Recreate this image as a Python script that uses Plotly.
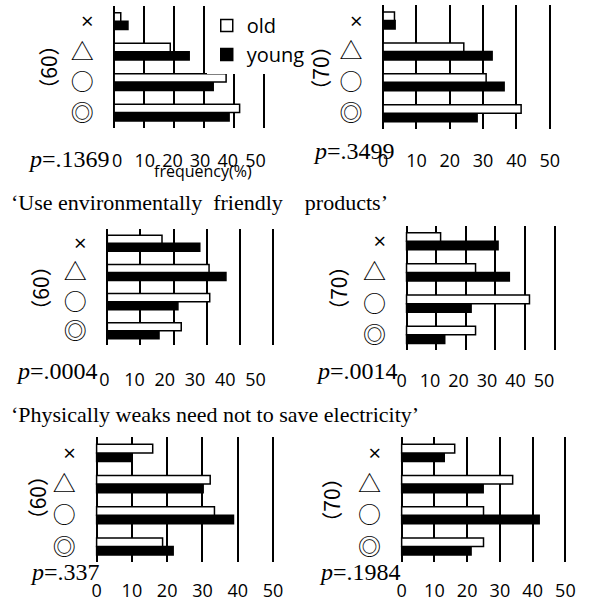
import plotly.graph_objects as go

# ---------------- data ----------------
categories = ["◎", "○", "△", "×"]          # bottom -> top
category_text = ["◎", "○", "△", '<span style="font-family:Open Sans;font-size:22px">×</span>']
series_names = ["old", "young"]
age_groups = ["（60）", "（70）", "（60）", "（70）", "（60）", "（70）"]
p_values = [".1369", ".3499", ".0004", ".0014", ".337", ".1984"]
tick_values = [0, 10, 20, 30, 40, 50]
tick_labels = ["0", "10", "20", "30", "40", "50"]
titles = ["‘Use environmentally\u00a0\u00a0friendly\u00a0\u00a0\u00a0\u00a0products’",
          "‘Physically weaks need not to save electricity’"]
x_title = "frequency(%)"

old_1 = [41.8, 37.3, 18.7, 2.2]
young_1 = [38.3, 33.0, 25.0, 4.6]
old_2 = [41.4, 30.9, 24.2, 3.4]
young_2 = [28.2, 36.3, 32.7, 3.6]
old_3 = [22.3, 30.9, 30.7, 16.5]
young_3 = [15.6, 21.3, 35.8, 27.9]
old_4 = [23.3, 41.5, 23.3, 11.5]
young_4 = [12.9, 21.8, 34.7, 30.9]
old_5 = [18.7, 33.4, 32.2, 15.9]
young_5 = [21.7, 38.8, 30.2, 10.1]
old_6 = [25.0, 25.0, 33.9, 16.2]
young_6 = [21.2, 42.0, 24.9, 13.0]

old_series = [old_1, old_2, old_3, old_4, old_5, old_6]
young_series = [young_1, young_2, young_3, young_4, young_5, young_6]

# ---------------- layout geometry (pixels) ----------------
W, H = 590, 608
# x at value 0, x at value 50, plot top, plot bottom
panel_geom = [
    (112, 266, 5, 127),
    (388, 559, 4, 128),
    (105, 275, 228, 345),
    (412, 564, 225, 350),
    (94, 275, 437, 562),
    (407, 575, 437, 562),
]
# tick-label row: x of "0", x of "50", centre y
label_geom = [
    (115, 257, 159),
    (388, 559, 159),
    (102, 257, 379),
    (407, 553, 380),
    (94, 275, 590),
    (407, 575, 590),
]
# p-value text: right edge x, centre y
p_geom = [(110, 158), (402, 150), (97, 371), (405, 371), (100, 572), (408, 572)]
# age label: centre x, centre y
age_geom = [(44, 66), (323, 67), (35, 288), (341, 288), (33, 498), (335, 500)]
title_geom = [(4, 202), (4, 414)]

SANS = "Open Sans"
SERIF = "Liberation Serif"
CJK = "Noto Sans CJK JP"


def fx(p):
    return p / W


def fy(p):
    return 1 - p / H


fig = go.Figure()
layout = {}
annotations = []

for i in range(6):
    n = i + 1
    xs = "" if n == 1 else str(n)
    x0, x50, top, bottom = panel_geom[i]
    ppu = (x50 - x0) / 50.0
    d0 = x0 - 0.5 * ppu
    d1 = x50 + 0.5 * ppu

    fig.add_trace(go.Bar(
        y=categories, x=young_series[i], orientation="h", name=series_names[1],
        marker=dict(color="black", line=dict(color="black", width=1.5)),
        xaxis="x" + xs, yaxis="y" + xs, showlegend=(n == 1), legendrank=2,
        legendgroup="young",
    ))
    fig.add_trace(go.Bar(
        y=categories, x=old_series[i], orientation="h", name=series_names[0],
        marker=dict(color="white", line=dict(color="black", width=1.5)),
        xaxis="x" + xs, yaxis="y" + xs, showlegend=(n == 1), legendrank=1,
        legendgroup="old",
    ))
    # empty trace that ties the tick-label axis into this panel
    lx = "x" + str(n + 6)
    fig.add_trace(go.Scatter(
        x=[], y=[], mode="markers", xaxis=lx, yaxis="y" + xs,
        showlegend=False, hoverinfo="skip",
    ))

    layout["xaxis" + xs] = dict(
        domain=[fx(d0), fx(d1)], range=[-0.5, 50.5], autorange=False,
        anchor="y" + xs, tickvals=tick_values[1:], showticklabels=False, ticks="",
        showgrid=True, gridcolor="black", gridwidth=2,
        zeroline=True, zerolinecolor="black", zerolinewidth=2,
        showline=False, fixedrange=True,
    )
    layout["yaxis" + xs] = dict(
        domain=[fy(bottom), fy(top)], anchor="x" + xs, type="category",
        categoryorder="array", categoryarray=categories,
        tickvals=categories, ticktext=category_text,
        range=[-0.5, 3.5], autorange=False,
        tickfont=dict(family=CJK, size=23, color="black"), ticks="",
        ticklabelstandoff=18,
        showgrid=False, zeroline=False, showline=False, fixedrange=True,
    )

    # tick-label row (separate axis so the labels sit where the reference has them)
    l0, l50, ly = label_geom[i]
    layout["xaxis" + str(n + 6)] = dict(
        domain=[fx(l0), fx(l50)], range=[0, 50], autorange=False,
        anchor="free", position=fy(ly - 12),
        tickvals=tick_values, ticktext=tick_labels, ticks="",
        tickfont=dict(family=SANS, size=18, color="black"),
        showgrid=False, zeroline=False, showline=False, fixedrange=True,
    )

    px_, py_ = p_geom[i]
    annotations.append(dict(
        text="<i>p</i>=" + p_values[i], x=fx(px_), y=fy(py_), xref="paper", yref="paper",
        xanchor="right", yanchor="middle", showarrow=False,
        font=dict(family=SERIF, size=24, color="black"),
    ))
    ax_, ay_ = age_geom[i]
    annotations.append(dict(
        text=age_groups[i], x=fx(ax_), y=fy(ay_), xref="paper", yref="paper",
        xanchor="center", yanchor="middle", textangle=-90, showarrow=False,
        font=dict(family=CJK, size=21, color="black"),
    ))

for t, (tx, ty) in zip(titles, title_geom):
    annotations.append(dict(
        text=t, x=fx(tx), y=fy(ty), xref="paper", yref="paper",
        xanchor="left", yanchor="middle", showarrow=False,
        font=dict(family=SERIF, size=22, color="black"),
    ))

annotations.append(dict(
    text=x_title, x=fx(203), y=fy(170), xref="paper", yref="paper",
    xanchor="center", yanchor="middle", showarrow=False,
    font=dict(family=SANS, size=16, color="black"),
))

fig.update_layout(
    width=W, height=H, margin=dict(l=0, r=0, t=0, b=0),
    paper_bgcolor="white", plot_bgcolor="rgba(0,0,0,0)",
    barmode="group", bargap=0.45, bargroupgap=0,
    showlegend=True,
    legend=dict(x=fx(207), y=fy(5), xanchor="left", yanchor="top",
                bgcolor="white", font=dict(family=SANS, size=20, color="black"),
                tracegroupgap=0, borderwidth=0),
    annotations=annotations,
    **layout,
)

fig.write_html("out.html", config={"displayModeBar": False},
               post_script="document.body.style.margin='0px';")
